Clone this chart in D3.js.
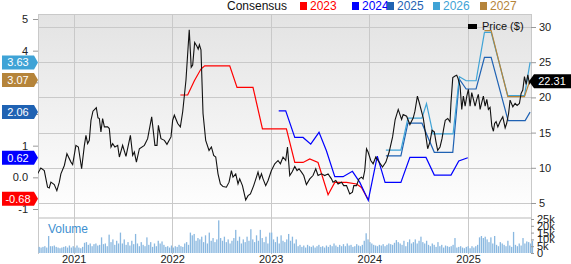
<!DOCTYPE html>
<html><head><meta charset="utf-8">
<script src="https://cdn.jsdelivr.net/npm/d3@7"></script>
<style>
html,body{margin:0;padding:0;background:#fff;}
svg{display:block;font-family:"Liberation Sans",Arial,sans-serif;}
</style></head>
<body><svg id="c" width="571" height="264"></svg>
<script>
// ---------- DATA ----------
const seriesNames = ["2023","2024","2025","2026","2027"];
const seriesColors = ["#ff0000","#0000ff","#1f62b3","#3fa3d6","#b5843a"];
const latestEps = [-0.68, 0.62, 2.06, 3.63, 3.07];

// consensus EPS estimates: [decimal year, eps]
const eps2023 = [[2022.083,2.60],[2022.157,2.60],[2022.225,3.05],[2022.292,3.42],[2022.330,3.52],[2022.584,3.52],[2022.658,2.84],[2022.820,2.84],[2022.916,1.53],[2023.159,1.53],[2023.244,0.47],[2023.328,0.47],[2023.396,0.58],[2023.480,0.47],[2023.582,-0.55],[2023.650,-0.16],[2023.769,-0.16],[2023.870,-0.21],[2023.921,-0.32],[2023.985,-0.68]];
const eps2024 = [[2023.081,2.10],[2023.152,2.10],[2023.244,1.26],[2023.328,1.26],[2023.406,1.05],[2023.490,1.42],[2023.565,0.84],[2023.650,0.02],[2023.734,0.02],[2023.829,0.19],[2023.904,-0.16],[2023.990,-0.73],[2024.081,0.67],[2024.160,-0.16],[2024.320,-0.16],[2024.411,0.63],[2024.574,0.63],[2024.658,0.07],[2024.827,0.07],[2024.906,0.52],[2024.997,0.62]];
const eps2025 = [[2024.168,0.68],[2024.320,0.68],[2024.391,1.71],[2024.533,1.71],[2024.658,0.79],[2024.845,0.79],[2024.912,3.10],[2024.980,2.79],[2025.081,2.79],[2025.166,3.79],[2025.234,3.79],[2025.406,1.79],[2025.579,1.79],[2025.629,2.06]];
const eps2026 = [[2024.168,0.86],[2024.320,0.86],[2024.391,1.87],[2024.533,1.87],[2024.579,2.33],[2024.645,1.37],[2024.848,1.37],[2024.912,3.18],[2024.980,3.05],[2025.081,3.05],[2025.166,4.58],[2025.234,4.58],[2025.403,2.58],[2025.572,2.58],[2025.629,3.63]];
const eps2027 = [[2025.166,4.63],[2025.234,4.63],[2025.403,2.55],[2025.572,2.55],[2025.629,3.07]];

// price: [decimal year, $]
const price = [[2020.635,9.14],[2020.668,9.96],[2020.703,9.61],[2020.736,7.24],[2020.753,7.14],[2020.770,7.96],[2020.804,7.61],[2020.830,6.76],[2020.855,7.96],[2020.871,9.14],[2020.906,10.33],[2020.932,12.0],[2020.973,10.81],[2020.990,10.47],[2021.023,13.19],[2021.048,12.96],[2021.081,9.86],[2021.109,13.19],[2021.125,14.61],[2021.142,13.43],[2021.159,13.9],[2021.176,16.76],[2021.196,18.04],[2021.230,18.53],[2021.247,17.1],[2021.261,17.0],[2021.277,15.1],[2021.294,17.0],[2021.312,15.81],[2021.345,15.81],[2021.362,15.57],[2021.379,12.96],[2021.396,13.43],[2021.419,12.96],[2021.447,13.19],[2021.464,11.53],[2021.497,13.19],[2021.531,11.61],[2021.576,14.61],[2021.599,11.76],[2021.616,12.24],[2021.637,10.81],[2021.667,12.71],[2021.718,13.19],[2021.751,14.14],[2021.792,17.24],[2021.825,13.19],[2021.846,13.19],[2021.860,16.04],[2021.886,14.14],[2021.921,13.9],[2021.947,13.33],[2021.988,14.39],[2022.005,16.76],[2022.022,17.47],[2022.056,16.29],[2022.083,15.81],[2022.107,18.0],[2022.140,22.47],[2022.173,29.61],[2022.193,24.29],[2022.208,24.61],[2022.228,27.79],[2022.252,27.24],[2022.264,26.86],[2022.276,27.47],[2022.292,26.76],[2022.313,17.71],[2022.340,13.9],[2022.374,12.47],[2022.398,12.96],[2022.421,11.76],[2022.442,11.53],[2022.465,9.14],[2022.489,7.71],[2022.516,7.33],[2022.550,7.24],[2022.577,7.96],[2022.601,9.61],[2022.617,8.67],[2022.645,9.14],[2022.668,7.71],[2022.685,8.43],[2022.713,7.47],[2022.746,5.43],[2022.770,6.04],[2022.794,6.29],[2022.827,7.47],[2022.855,8.67],[2022.871,9.39],[2022.888,8.43],[2022.906,9.14],[2022.922,8.43],[2022.949,7.47],[2022.973,8.19],[2023.007,9.61],[2023.041,10.57],[2023.074,11.04],[2023.098,10.57],[2023.125,11.53],[2023.152,11.04],[2023.170,12.96],[2023.193,8.9],[2023.218,9.43],[2023.244,10.19],[2023.267,9.61],[2023.287,9.86],[2023.312,9.39],[2023.335,8.9],[2023.362,7.61],[2023.396,8.43],[2023.429,8.9],[2023.457,9.86],[2023.480,8.9],[2023.515,9.14],[2023.548,8.9],[2023.582,9.14],[2023.616,8.43],[2023.632,7.96],[2023.660,8.19],[2023.683,7.71],[2023.718,7.96],[2023.741,7.47],[2023.769,7.47],[2023.802,6.29],[2023.829,6.53],[2023.843,7.47],[2023.870,7.47],[2023.896,8.43],[2023.921,8.67],[2023.937,8.43],[2023.954,9.61],[2023.972,12.71],[2023.988,12.24],[2024.015,11.04],[2024.039,10.57],[2024.066,11.53],[2024.100,10.81],[2024.134,10.1],[2024.168,10.81],[2024.201,12.24],[2024.236,14.39],[2024.262,16.86],[2024.293,18.29],[2024.327,16.86],[2024.343,17.57],[2024.378,17.33],[2024.411,16.14],[2024.445,17.1],[2024.462,18.04],[2024.487,20.19],[2024.506,19.24],[2024.546,17.1],[2024.574,14.39],[2024.591,12.71],[2024.614,13.67],[2024.635,15.33],[2024.658,15.1],[2024.675,13.67],[2024.692,12.47],[2024.716,12.96],[2024.736,14.14],[2024.753,15.57],[2024.769,16.76],[2024.794,17.0],[2024.817,16.53],[2024.827,19.29],[2024.845,22.81],[2024.868,23.04],[2024.885,23.14],[2024.898,22.71],[2024.919,21.61],[2024.936,18.29],[2024.952,20.19],[2024.970,18.76],[2024.987,20.19],[2025.003,21.14],[2025.020,18.76],[2025.037,20.67],[2025.054,19.71],[2025.071,18.76],[2025.088,19.71],[2025.104,20.43],[2025.122,18.29],[2025.139,19.29],[2025.155,20.19],[2025.173,18.76],[2025.190,19.71],[2025.206,18.29],[2025.223,18.57],[2025.241,15.9],[2025.257,15.19],[2025.269,16.29],[2025.284,16.57],[2025.302,15.81],[2025.325,16.57],[2025.352,17.24],[2025.376,15.67],[2025.391,16.29],[2025.411,17.71],[2025.426,19.61],[2025.454,18.67],[2025.477,19.14],[2025.497,18.86],[2025.521,19.14],[2025.538,20.57],[2025.555,21.04],[2025.572,22.96],[2025.589,21.86],[2025.606,23.19],[2025.622,22.0],[2025.634,22.31]];
const lastPrice = 22.31;

// weekly volume (thousands), starting week of 2020-08-24
const volume = [4.5,4,4.5,5,4,12.5,5,5,5.5,4.5,4,3.5,4,4.5,5,4,5.5,4,5,
4,5.5,4,3.5,4.5,7.5,8,6,7,5,6.5,7,5.5,6,11.5,6.5,7,5,13.5,8,10,6,9,7,15,
7,10,6,8,5.5,9,6.5,14,7,5,8,6,5,11.5,6,8,4.5,7,5,9,7,8.5,6,4.5,5,4,5.5,
4,5,4.5,6,5,4.5,7,8,6,15,13,14,9,11,10,12,8,13,7,15,9,11,8,10,24,
11,9,12,8,10,7,9,11,17,9,12,7,10,8,12,9,17.5,10,8,13,9,17,11,8,12,7,15,15,
10,8,12,7,13,9,8,10,14,9,12,7,10,5,6,4.5,5.5,4,6,5,4.5,5.5,4,5,6,4.5,5,4,5.5,4.5,
6,5,7,5.5,4.5,6,5,6.5,5,7,5.5,6,4.5,5,6.5,5.5,5,6,9,14.5,10,8,7,6,
5.5,5,6,5.5,6.5,5,6,7,6.5,6,7.5,9.5,8,7,6,9,5,8,10,7,8,10,7,9,12,8,7,9,6,
5,7,6,4.5,8,5,6,4,5.5,5,4.5,5,6,11,4,4.5,5,4,3.5,4.5,5,3.5,5,
4,5,6,11.5,12.5,11,12,10,8,11.5,7,12.5,6,5,8,7,6,5,9,5.5,4.5,15.5,
6,5,7,5.5,11,7,8.5,8,7,9];

const epsTicks = [-1,0,1,2,3,4,5];
const epsTickLabels = ["-1","0.0","1","","","4","5"];
const priceTicks = [5,10,15,20,25,30];
const volTicks = [0,5,10,15,20,25];
const volTickLabels = ["0","5k","10k","15k","20k","25k"];

// ---------- CHART ----------
const svg = d3.select("#c");
const L = 38, R = 531, T = 14, MB = 217, VT = 219, VB = 254;

function toDate(y){const yr=Math.floor(y);const s=Date.UTC(yr,0,1),e=Date.UTC(yr+1,0,1);return new Date(s+(y-yr)*(e-s));}

const x = d3.scaleUtc().domain([new Date(Date.UTC(2020,7,22)), new Date(Date.UTC(2025,7,22))]).range([L,R]);
const yP = d3.scaleLinear().domain([5,30]).range([203,27]);
const yE = d3.scaleLinear().domain([-1,5]).range([209,19]);
const yV = d3.scaleLinear().domain([0,25]).range([253,219]);

const defs = svg.append("defs");
const g1 = defs.append("linearGradient").attr("id","bg").attr("x1",0).attr("y1",0).attr("x2",0).attr("y2",1);
g1.append("stop").attr("offset","0%").attr("stop-color","#e3e3e3");
g1.append("stop").attr("offset","100%").attr("stop-color","#ffffff");
defs.append("clipPath").attr("id","clipMain").append("rect").attr("x",L).attr("y",T).attr("width",R-L).attr("height",MB-T);

svg.append("rect").attr("x",L).attr("y",T).attr("width",R-L).attr("height",MB-T).attr("fill","url(#bg)");
svg.append("rect").attr("x",L).attr("y",MB).attr("width",R-L).attr("height",2).attr("fill","#dcdcdc");

svg.append("g").selectAll("line").data(priceTicks).join("line")
  .attr("x1",L).attr("x2",R).attr("y1",d=>Math.round(yP(d))+0.5).attr("y2",d=>Math.round(yP(d))+0.5)
  .attr("stroke","#c9c9c9").attr("stroke-width",1);
const yearTicks = x.ticks(d3.utcYear.every(1));
svg.append("g").selectAll("line").data(yearTicks).join("line")
  .attr("x1",d=>Math.round(x(d))+0.5).attr("x2",d=>Math.round(x(d))+0.5).attr("y1",T).attr("y2",VB)
  .attr("stroke","#c9c9c9").attr("stroke-width",1);
svg.append("line").attr("x1",L).attr("x2",R).attr("y1",T+0.5).attr("y2",T+0.5).attr("stroke","#c9c9c9");
svg.append("line").attr("x1",L+0.5).attr("x2",L+0.5).attr("y1",T).attr("y2",VB).attr("stroke","#c9c9c9");
svg.append("line").attr("x1",R+0.5).attr("x2",R+0.5).attr("y1",T).attr("y2",VB).attr("stroke","#c9c9c9");

const weeks = volume.map((v,i)=>d3.utcWeek.offset(new Date(Date.UTC(2020,7,24)), i));
svg.append("g").selectAll("rect").data(volume).join("rect")
  .attr("x",(d,i)=>x(weeks[i])).attr("width",1.3)
  .attr("y",d=>yV(d)).attr("height",d=>yV(0)-yV(d))
  .attr("fill","#8ab8e0");
svg.append("text").attr("x",48).attr("y",233).attr("font-size",12).attr("fill","#3d8fd0").text("Volume");

const epsSeries = [eps2023,eps2024,eps2025,eps2026,eps2027];
const lineE = d3.line().x(d=>x(toDate(d[0]))).y(d=>yE(d[1]));
const main = svg.append("g").attr("clip-path","url(#clipMain)");
epsSeries.forEach((s,i)=>{
  main.append("path").attr("d",lineE(s)).attr("fill","none").attr("stroke",seriesColors[i]).attr("stroke-width",1.2);
});
const lineP = d3.line().x(d=>x(toDate(d[0]))).y(d=>yP(d[1]));
main.append("path").attr("d",lineP(price)).attr("fill","none").attr("stroke","#111").attr("stroke-width",1.1);

const axL = svg.append("g").attr("transform",`translate(${L},0)`)
  .call(d3.axisLeft(yE).tickValues(epsTicks).tickFormat((d,i)=>epsTickLabels[i]).tickSize(5).tickPadding(5));
axL.select(".domain").remove();
axL.selectAll("line").attr("stroke","#999");
axL.selectAll("text").attr("font-size",11).attr("fill","#222").attr("font-family","Liberation Sans, Arial, sans-serif");

const axR = svg.append("g").attr("transform",`translate(${R},0)`)
  .call(d3.axisRight(yP).tickValues(priceTicks).tickSize(5).tickPadding(3));
axR.select(".domain").remove();
axR.selectAll("line").attr("stroke","#999");
axR.selectAll("text").attr("font-size",11).attr("fill","#222").attr("font-family","Liberation Sans, Arial, sans-serif");

const axV = svg.append("g").attr("transform",`translate(${R},0)`)
  .call(d3.axisRight(yV).tickValues(volTicks).tickFormat((d,i)=>volTickLabels[i]).tickSize(3).tickPadding(3));
axV.select(".domain").remove();
axV.selectAll("line").attr("stroke","#999");
axV.selectAll("text").attr("font-size",11).attr("fill","#222").attr("font-family","Liberation Sans, Arial, sans-serif");

const axX = svg.append("g").attr("transform",`translate(0,${VB})`)
  .call(d3.axisBottom(x).ticks(d3.utcYear.every(1)).tickFormat(d3.utcFormat("%Y")).tickSize(0).tickPadding(1));
axX.select(".domain").remove();
axX.selectAll("text").attr("font-size",11).attr("fill","#222").attr("font-family","Liberation Sans, Arial, sans-serif");

latestEps.forEach((v,i)=>{
  const yc = yE(v);
  svg.append("path").attr("d",`M2,${yc-7}H34L38,${yc}L34,${yc+7}H2Z`).attr("fill",seriesColors[i]);
  svg.append("text").attr("x",18).attr("y",yc+4).attr("text-anchor","middle").attr("font-size",11).attr("fill","#fff").text(v.toFixed(2));
});
{
  const yc = yP(lastPrice);
  svg.append("path").attr("d",`M529,${yc}L534,${yc-7}H571V${yc+7}H534Z`).attr("fill","#000");
  svg.append("text").attr("x",552).attr("y",yc+4).attr("text-anchor","middle").attr("font-size",11).attr("fill","#fff").text(lastPrice.toFixed(2));
}

const leg = svg.append("g");
leg.append("text").attr("x",227).attr("y",10).attr("font-size",12).attr("fill","#111").text("Consensus");
const legX = [300,352,387,433,480];
seriesNames.forEach((n,i)=>{
  leg.append("rect").attr("x",legX[i]).attr("y",2).attr("width",7).attr("height",8).attr("fill",seriesColors[i]);
  leg.append("text").attr("x",legX[i]+10).attr("y",10).attr("font-size",12).attr("fill",seriesColors[i]).text(n);
});
svg.append("rect").attr("x",468).attr("y",24).attr("width",9).attr("height",5).attr("fill","#000");
svg.append("text").attr("x",482).attr("y",30).attr("font-size",11).attr("fill","#111").text("Price ($)");
</script></body></html>
